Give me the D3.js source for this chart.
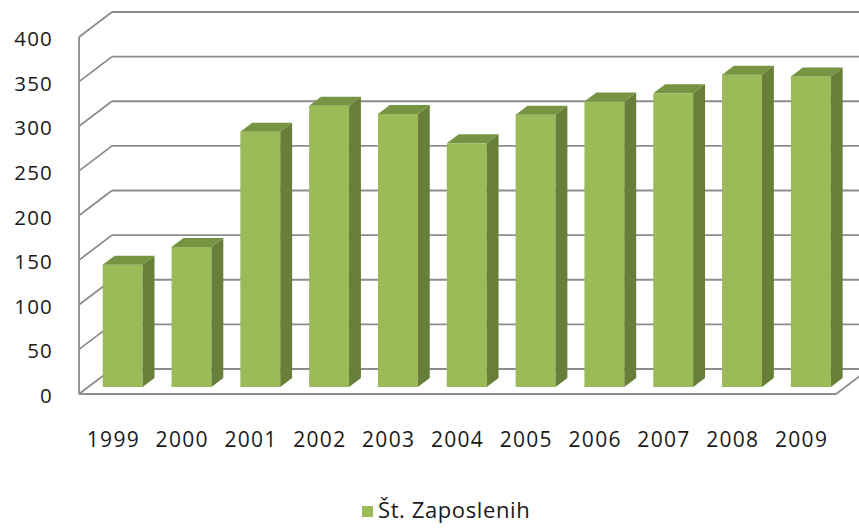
<!DOCTYPE html>
<html>
<head>
<meta charset="utf-8">
<script src="https://cdn.jsdelivr.net/npm/d3@7"></script>
<style>
  body { margin: 0; background: #fff; }
  text { font-family: "Open Sans", sans-serif; fill: #1a1a1a; }
</style>
</head>
<body>
<div id="chart"></div>
<script>
// data
let years = ["1999", "2000", "2001", "2002", "2003", "2004", "2005", "2006", "2007", "2008", "2009"];
let values = [137, 157, 286, 315, 306, 273, 305, 320, 329, 350, 348];
let yTicks = [0, 50, 100, 150, 200, 250, 300, 350, 400];
let seriesName = "Št. Zaposlenih";

let width = 859;
let height = 528;

// 3d depth of the plot box
let depth = {dx: 33, dy: -25};
let barFront = 0.28, barBack = 0.64;

let svg = d3.select("#chart")
    .append("svg")
    .attr("width", width)
    .attr("height", height);

let x = d3.scaleBand()
    .domain(years)
    .range([79, 836])
    .paddingInner(0.42)
    .paddingOuter(0.21);

let y = d3.scaleLinear()
    .domain([0, 400])
    .range([394, 37]);

let gridColor = "#8c8c8c";
let grid = svg.append("g")
    .attr("stroke", gridColor)
    .attr("stroke-width", 1.8)
    .attr("fill", "none");

// back wall gridlines
grid.selectAll(".back")
    .data(yTicks)
    .enter().append("line")
    .attr("x1", 79 + depth.dx)
    .attr("x2", 836 + depth.dx)
    .attr("y1", d => y(d) + depth.dy)
    .attr("y2", d => y(d) + depth.dy);

// side wall diagonals
grid.selectAll(".side")
    .data(yTicks)
    .enter().append("line")
    .attr("x1", 79)
    .attr("x2", 79 + depth.dx)
    .attr("y1", d => y(d))
    .attr("y2", d => y(d) + depth.dy);

// front axis line and floor
grid.append("line")
    .attr("x1", 79).attr("x2", 79)
    .attr("y1", y(0)).attr("y2", y(400));
grid.append("line")
    .attr("x1", 79).attr("x2", 836)
    .attr("y1", y(0)).attr("y2", y(0));
grid.append("line")
    .attr("x1", 836).attr("x2", 836 + depth.dx)
    .attr("y1", y(0)).attr("y2", y(0) + depth.dy);

// bars
let fx = barFront * depth.dx, fy = barFront * depth.dy;
let bx = barBack * depth.dx, by = barBack * depth.dy;
let data = years.map((d, i) => ({year: d, value: values[i]}));

let bars = svg.append("g").selectAll("g")
    .data(data)
    .enter().append("g");

bars.append("rect")
    .attr("x", d => x(d.year) + fx)
    .attr("y", d => y(d.value) + fy)
    .attr("width", x.bandwidth())
    .attr("height", d => y(0) - y(d.value))
    .attr("fill", "#9bbb59");

bars.append("polygon")
    .attr("points", d => {
        let r = x(d.year) + x.bandwidth();
        return [[r + fx, y(d.value) + fy], [r + fx, y(0) + fy],
                [r + bx, y(0) + by], [r + bx, y(d.value) + by]].join(" ");
    })
    .attr("fill", "#677f39");

bars.append("polygon")
    .attr("points", d => {
        let l = x(d.year), r = l + x.bandwidth(), t = y(d.value);
        return [[l + fx, t + fy], [r + fx, t + fy],
                [r + bx, t + by], [l + bx, t + by]].join(" ");
    })
    .attr("fill", "#779443");

// value axis labels
svg.append("g").selectAll("text")
    .data(yTicks)
    .enter().append("text")
    .attr("x", 53)
    .attr("y", d => y(d) + 1)
    .attr("text-anchor", "end")
    .attr("dominant-baseline", "central")
    .attr("font-size", 20.5)
    .attr("letter-spacing", 1.2)
    .text(d => d);

// category labels
svg.append("g").selectAll("text")
    .data(years)
    .enter().append("text")
    .attr("x", d => x(d) + x.bandwidth() / 2)
    .attr("y", 439)
    .attr("text-anchor", "middle")
    .attr("dominant-baseline", "central")
    .attr("font-size", 21)
    .attr("letter-spacing", 1.3)
    .text(d => d);

// legend
svg.append("rect")
    .attr("x", 362).attr("y", 506)
    .attr("width", 11).attr("height", 11)
    .attr("fill", "#9bbb59");
svg.append("text")
    .attr("x", 378).attr("y", 518)
    .attr("font-size", 22)
    .attr("letter-spacing", 0.6)
    .text(seriesName);
</script>
</body>
</html>
